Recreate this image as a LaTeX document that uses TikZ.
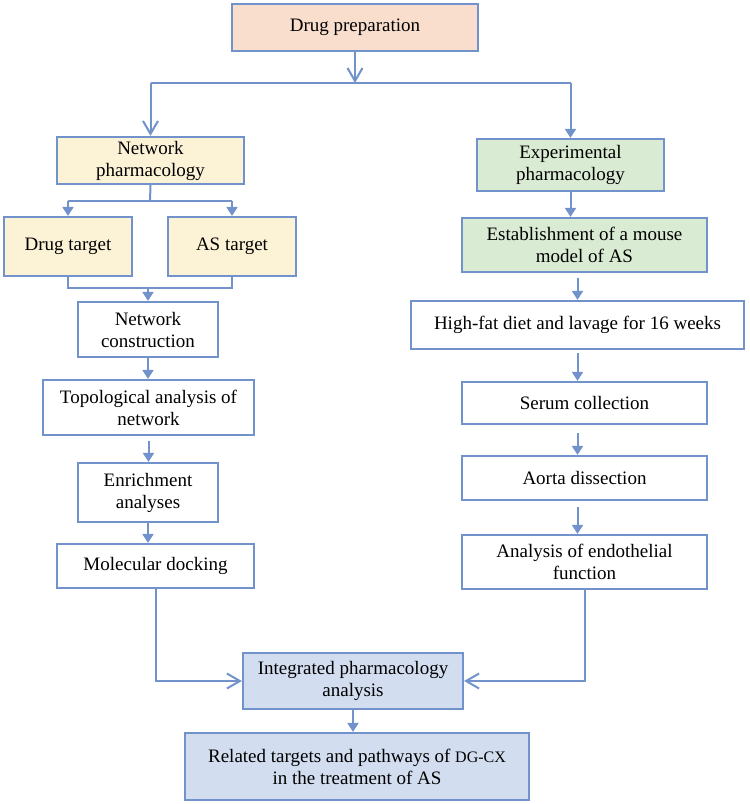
\documentclass[tikz,border=0pt]{standalone}
\usepackage{fontspec}
\setmainfont{Liberation Serif}
\usetikzlibrary{arrows.meta}

\definecolor{edgeblue}{RGB}{114,146,204}
\definecolor{peach}{RGB}{249,221,205}
\definecolor{cream}{RGB}{252,242,214}
\definecolor{mint}{RGB}{218,235,211}
\definecolor{paleblue}{RGB}{210,221,240}

\tikzset{
  box/.style={draw=edgeblue, line width=2.2pt, inner sep=0pt, align=center,
    font=\fontsize{19pt}{22pt}\selectfont},
  link/.style={draw=edgeblue, line width=2pt},
  openv/.style={link, -{Straight Barb[length=13pt,width=15pt,line width=2pt]}},
  filltip/.style={link, -{Triangle[length=9pt,width=11pt]}},
}

\begin{document}
\begin{tikzpicture}[x=1pt,y=-1pt]
\useasboundingbox (0,0) rectangle (750,804);

% boxes
\node[box, fill=peach, minimum width=246pt, minimum height=47pt] (prep) at (355,27.5) {Drug preparation};
\node[box, fill=cream, minimum width=187pt, minimum height=47pt] (netph) at (150.5,160.5) {Network\\pharmacology};
\node[box, fill=mint, minimum width=187pt, minimum height=52pt] (expph) at (570.5,165) {Experimental\\pharmacology};

\node[box, fill=cream, minimum width=128pt, minimum height=59pt] (drugt) at (68,246.5) {Drug target};
\node[box, fill=cream, minimum width=128pt, minimum height=59pt] (ast) at (232,246.5) {AS target};
\node[box, minimum width=140pt, minimum height=55pt] (netc) at (148,329.5) {Network\\construction};
\node[box, minimum width=211pt, minimum height=55pt] (topo) at (148.5,407.5) {Topological analysis of\\network};
\node[box, minimum width=140pt, minimum height=59pt] (enrich) at (148,492.5) {Enrichment\\analyses};
\node[box, minimum width=197pt, minimum height=44pt] (dock) at (155.5,566) {Molecular docking};

\node[box, fill=mint, minimum width=245pt, minimum height=54pt] (estab) at (584.5,245) {Establishment of a mouse\\model of AS};
\node[box, minimum width=333pt, minimum height=48pt] (hfd) at (577.5,325) {High-fat diet and lavage for 16 weeks};
\node[box, minimum width=245pt, minimum height=42pt] (serum) at (584.5,403) {Serum collection};
\node[box, minimum width=245pt, minimum height=44pt] (aorta) at (584.5,478) {Aorta dissection};
\node[box, minimum width=245pt, minimum height=54pt] (endo) at (584.5,562) {Analysis of endothelial\\function};

\node[box, fill=paleblue, minimum width=220pt, minimum height=56pt] (integ) at (353,681) {Integrated pharmacology\\analysis};
\node[box, fill=paleblue, minimum width=344pt, minimum height=67pt] (result) at (357,766.5)
  {Related targets and pathways of {\fontsize{16pt}{22pt}\selectfont DG-CX}\\in the treatment of AS};

% split below the top box
\coordinate (split) at (355,83);
\draw[openv] (prep.south) -- (split);
\draw[link] (netph.north |- split) -- (expph.north |- split);
\draw[openv] (netph.north |- split) -- (netph.north);
\draw[filltip] (expph.north |- split) -- (expph.north);

% network pharmacology branch
\coordinate (nsplit) at (150,201);
\coordinate (nmerge) at (148,288);
\draw[link] (netph.south) -- (nsplit);
\draw[link] (drugt.north |- nsplit) -- (ast.north |- nsplit);
\draw[filltip] (drugt.north |- nsplit) -- (drugt.north);
\draw[filltip] (ast.north |- nsplit) -- (ast.north);
\draw[link] (drugt.south) -- (drugt.south |- nmerge) -- (ast.south |- nmerge) -- (ast.south);
\draw[filltip] (nmerge) -- (netc.north);
\draw[filltip] (netc.south) -- (netc.south |- topo.north);
\draw[filltip, shorten <=5pt] (topo.south) -- (topo.south |- enrich.north);
\draw[filltip] (enrich.south) -- (enrich.south |- dock.north);

% experimental pharmacology branch
\draw[filltip] (expph.south) -- (expph.south |- estab.north);
\draw[filltip, shorten <=5pt] (hfd.north |- estab.south) -- (hfd.north);
\draw[filltip, shorten <=3pt] (hfd.south) -- (hfd.south |- serum.north);
\draw[filltip, shorten <=8pt] (serum.south -| hfd) -- (aorta.north -| hfd);
\draw[filltip, shorten <=6pt] (aorta.south -| hfd) -- (endo.north -| hfd);

% merge into the integrated analysis
\draw[openv] (dock.south) |- (integ.west);
\draw[openv] (endo.south) |- (integ.east);
\draw[filltip] (integ.south) -- (integ.south |- result.north);
\end{tikzpicture}
\end{document}
